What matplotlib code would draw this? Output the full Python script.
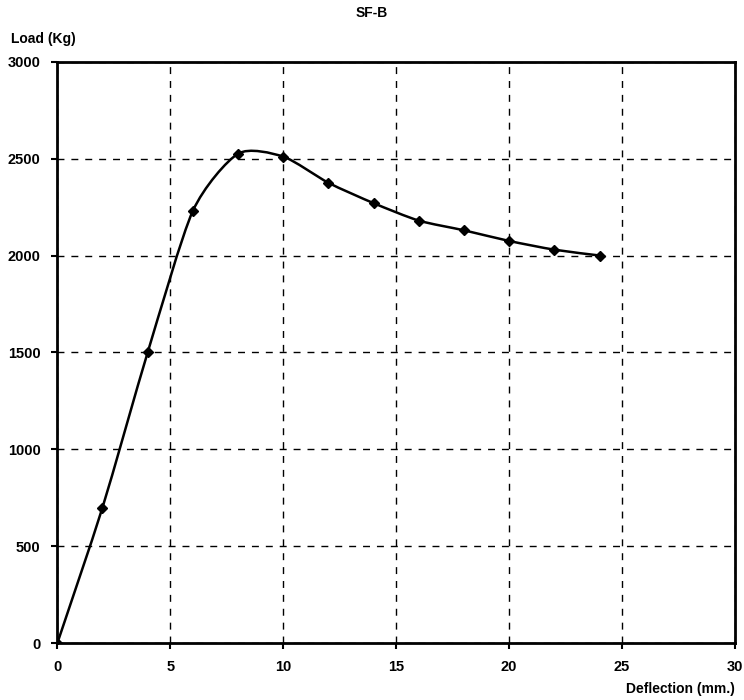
import numpy as np
import matplotlib.pyplot as plt
from matplotlib.path import Path
from matplotlib.patches import PathPatch

plt.rcParams['font.family'] = ['Liberation Sans', 'DejaVu Sans']
plt.rcParams['font.weight'] = 'bold'

deflection = [0, 2, 4, 6, 8, 10, 12, 14, 16, 18, 20, 22, 24]
load = [0, 700, 1500, 2230, 2525, 2510, 2375, 2270, 2180, 2130, 2075, 2030, 2000]
x_ticks = [0, 5, 10, 15, 20, 25, 30]
y_ticks = [0, 500, 1000, 1500, 2000, 2500, 3000]


def smooth_path(x, y, t=0.12):
    # Excel-style smoothed line: cubic bezier through every point
    x = np.asarray(x, float)
    y = np.asarray(y, float)
    verts = [(x[0], y[0])]
    codes = [Path.MOVETO]
    n = len(x)
    for i in range(n - 1):
        x0, y0 = (x[i - 1], y[i - 1]) if i > 0 else (x[i], y[i])
        x3, y3 = (x[i + 2], y[i + 2]) if i + 2 < n else (x[i + 1], y[i + 1])
        c1 = (x[i] + (x[i + 1] - x0) * t, y[i] + (y[i + 1] - y0) * t)
        c2 = (x[i + 1] - (x3 - x[i]) * t, y[i + 1] - (y3 - y[i]) * t)
        verts += [c1, c2, (x[i + 1], y[i + 1])]
        codes += [Path.CURVE4] * 3
    return Path(verts, codes)


fig = plt.figure(figsize=(7.44, 7.0), dpi=100)
ax = fig.add_axes([0.077, 0.081, 0.911, 0.831])

ax.add_patch(PathPatch(smooth_path(deflection, load), facecolor='none',
                       edgecolor='black', linewidth=1.8, zorder=3))
ax.plot(deflection, load, linestyle=' ', marker='D', markersize=5.5,
        color='black', zorder=4)

ax.set_xlim(0, 30)
ax.set_ylim(0, 3000)
ax.set_xticks(x_ticks)
ax.set_yticks(y_ticks)
ax.grid(True, color='black', linestyle=(0, (5, 5)), linewidth=1.0)
for s in ax.spines.values():
    s.set_linewidth(2.0)
ax.tick_params(direction='out', length=4, width=1.5, labelsize=10.5, pad=8)

fig.text(0.50, 0.992, 'SF-B', ha='center', va='top', fontsize=10, fontweight='bold')
fig.text(0.015, 0.955, 'Load (Kg)', ha='left', va='top', fontsize=10, fontweight='bold')
fig.text(0.988, 0.005, 'Deflection (mm.)', ha='right', va='bottom', fontsize=10, fontweight='bold')

fig.savefig('out.png', dpi=100)
